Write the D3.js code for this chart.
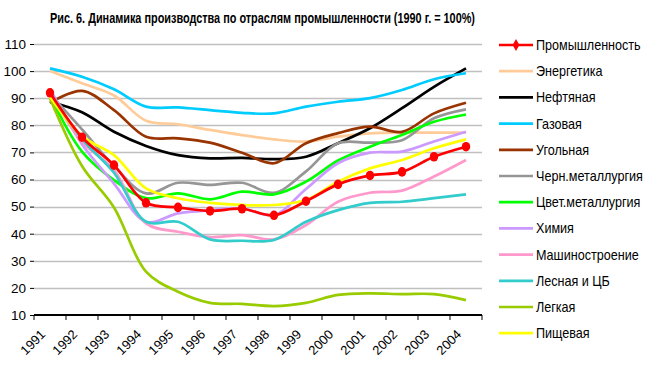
<!DOCTYPE html>
<html><head><meta charset="utf-8">
<script src="https://cdn.jsdelivr.net/npm/d3@7"></script>
<style>
body{margin:0;background:#fff;}
svg{display:block;}
text{font-family:"Liberation Sans", Arial, sans-serif;fill:#000;}
.title{font-family:"Liberation Sans", Arial, sans-serif;font-weight:bold;font-size:15px;}
</style></head>
<body>
<svg id="c" width="652" height="378"></svg>
<script>
const years = ["1991","1992","1993","1994","1995","1996","1997","1998","1999","2000","2001","2002","2003","2004"];
const yTicks = [10,20,30,40,50,60,70,80,90,100,110];
const seriesNames = ["Промышленность","Энергетика","Нефтяная","Газовая","Угольная","Черн.металлургия","Цвет.металлургия","Химия","Машиностроение","Лесная и ЦБ","Легкая","Пищевая"];
const prom   = [92, 75.6, 65.3, 51.4, 49.7, 48.4, 49.2, 46.8, 52.0, 58.2, 61.5, 62.8, 68.4, 72.1];
const energ  = [100, 95.5, 91, 81.7, 80.4, 78.3, 76.4, 74.8, 74.0, 75.8, 77.0, 77.3, 77.3, 77.3];
const neft   = [88.7, 84.8, 77.6, 72.4, 69, 67.8, 68, 67.5, 68.4, 73.4, 78.9, 86.3, 94.2, 101];
const gaz    = [101, 97.9, 93.3, 86.9, 86.6, 85.6, 84.6, 84.4, 86.9, 88.7, 90, 93, 97, 99.2];
const ugol   = [88.3, 92.7, 85.6, 75.8, 75.2, 73.6, 69.9, 66, 73.4, 77.1, 79.5, 77.6, 84.4, 88.3];
const chern  = [91.5, 78.5, 65, 54.9, 58.8, 58, 58.8, 55.1, 63, 73.4, 73.6, 74.5, 82.6, 85.9];
const tsvet  = [91, 70.3, 59.8, 53.1, 54.9, 52.7, 55.5, 54.5, 59.2, 67, 72.1, 76.4, 81.3, 84];
const himiya = [93.5, 73, 58.5, 44.4, 47.5, 48.7, 49.3, 46.9, 56.5, 66, 69.9, 70.3, 74, 77.6];
const mash   = [92, 74, 63.5, 43.8, 40.7, 38.7, 39.5, 37.9, 43.2, 51.8, 55.1, 55.9, 61.1, 67.2];
const les    = [92, 75, 62.5, 44.4, 44.4, 37.9, 37.4, 37.7, 44.4, 48.7, 51.4, 51.8, 53.1, 54.5];
const legk   = [90, 65, 49.7, 26, 18.6, 14.5, 14.1, 13.3, 14.5, 17.4, 18, 17.7, 17.7, 15.5];
const pish   = [90.5, 76, 69, 56.7, 53.1, 51.4, 50.6, 50.6, 52.4, 59.2, 64.1, 67.2, 71.5, 74.8];
const colors = ["#FF0000","#FFCC99","#000000","#00CCFF","#993300","#969696","#00FF00","#CC99FF","#FF99CC","#33CCCC","#99CC00","#FFFF00"];
const allValues = [prom, energ, neft, gaz, ugol, chern, tsvet, himiya, mash, les, legk, pish];

const svg = d3.select("#c");
const x = d3.scaleBand().domain(years).range([34, 482]);
const y = d3.scaleLinear().domain([10, 110]).range([315, 44]);
const cx = d => x(d) + x.bandwidth()/2;

svg.append("text").attr("class","title").attr("x",50).attr("y",23)
  .attr("textLength",425).attr("lengthAdjust","spacingAndGlyphs")
  .text("Рис. 6. Динамика производства по отраслям промышленности (1990 г. = 100%)");

// gridlines
svg.append("g").selectAll("line").data(yTicks.filter(t=>t>10)).join("line")
  .attr("x1",34).attr("x2",482).attr("y1",d=>Math.round(y(d))+0.5).attr("y2",d=>Math.round(y(d))+0.5)
  .attr("stroke","#C0C0C0").attr("stroke-width",1.3);

// y axis
const ya = svg.append("g").attr("transform","translate(34,0)")
  .call(d3.axisLeft(y).tickValues(yTicks).tickSize(4).tickPadding(4));
ya.select(".domain").remove();
ya.selectAll("text").style("font-size","13.5px").style("font-family","'Liberation Sans',Arial,sans-serif");
ya.selectAll("line").attr("stroke","#000");

// x axis
const xa = svg.append("g").attr("transform","translate(0,315)")
  .call(d3.axisBottom(x).tickSize(0).tickFormat(""));
xa.select(".domain").attr("stroke","#000").attr("stroke-width",2).attr("d","M34,0H482");
const tickPos = years.map(d=>x(d)).concat([482]);
xa.append("g").selectAll("line").data(tickPos).join("line")
  .attr("x1",d=>d).attr("x2",d=>d).attr("y1",0).attr("y2",5).attr("stroke","#000").attr("stroke-width",1);
svg.append("g").selectAll("text").data(years).join("text")
  .attr("transform",d=>`translate(${cx(d)-7},332) rotate(-45)`)
  .attr("text-anchor","end").attr("dy","0.35em").style("font-size","13px").text(d=>d);

const line = d3.line().x((v,i)=>cx(years[i])).y(v=>y(v)).curve(d3.curveCatmullRom.alpha(0.5));
const order = [1,2,3,4,5,6,7,8,9,10,11,0];
const g = svg.append("g");
order.forEach(k=>{
  g.append("path").attr("d",line(allValues[k])).attr("fill","none")
    .attr("stroke",colors[k]).attr("stroke-width",2.7).attr("stroke-linejoin","round");
});
g.append("g").selectAll("ellipse").data(prom).join("ellipse")
  .attr("cx",(v,i)=>cx(years[i])).attr("cy",v=>y(v)).attr("rx",4.2).attr("ry",4.8).attr("fill","#FF0000");

// legend
const lg = svg.append("g");
seriesNames.forEach((n,i)=>{
  const yy = 45 + i*26.2;
  lg.append("line").attr("x1",499).attr("x2",533).attr("y1",yy).attr("y2",yy)
    .attr("stroke",colors[i]).attr("stroke-width",2.7);
  if(i===0) lg.append("path").attr("d",d3.symbol(d3.symbolDiamond,40)()).attr("transform",`translate(516,${yy})`).attr("fill","#FF0000");
  lg.append("text").attr("transform",`translate(536,${yy}) scale(0.9,1)`).attr("dy","0.36em")
    .style("font-size","14px").text(n);
});
</script>
</body></html>
